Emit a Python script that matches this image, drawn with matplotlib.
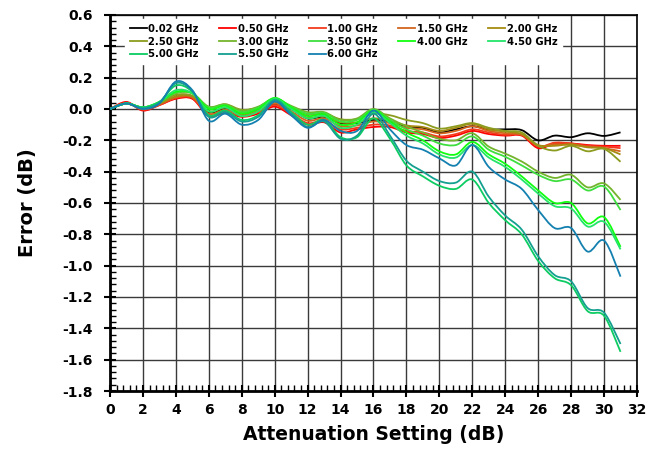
import matplotlib
matplotlib.use('Agg')
import matplotlib.pyplot as plt
from matplotlib.path import Path
from matplotlib.patches import PathPatch
from matplotlib.lines import Line2D
from matplotlib.ticker import MultipleLocator, FormatStrFormatter

# attenuation setting (dB)
atten = list(range(32))

freq_labels = ['0.02 GHz', '0.50 GHz', '1.00 GHz', '1.50 GHz', '2.00 GHz',
               '2.50 GHz', '3.00 GHz', '3.50 GHz', '4.00 GHz', '4.50 GHz',
               '5.00 GHz', '5.50 GHz', '6.00 GHz']
line_colors = ['#000000', '#ff0000', '#f43a1c', '#d2661e', '#a88a10',
               '#8c9c1e', '#74b42c', '#3ede3e', '#10ff10', '#24e46a',
               '#0ccc62', '#14a090', '#1480b0']

err_002 = [0, 0.035, 0.0, 0.03, 0.07, 0.07, -0.02, 0.0, -0.03, -0.01, 0.03, 0.0,
           -0.06, -0.05, -0.09, -0.09, -0.07, -0.08, -0.11, -0.12, -0.15, -0.13,
           -0.11, -0.13, -0.13, -0.135, -0.2, -0.17, -0.18, -0.155, -0.172, -0.149]
err_050 = [0, 0.045, -0.01, 0.025, 0.065, 0.065, -0.045, -0.025, -0.05, -0.03, 0.015, -0.04,
           -0.1, -0.085, -0.15, -0.13, -0.115, -0.115, -0.15, -0.16, -0.185, -0.17,
           -0.14, -0.16, -0.17, -0.17, -0.25, -0.22, -0.22, -0.23, -0.235, -0.235]
err_100 = [0, 0.04, -0.005, 0.025, 0.07, 0.07, -0.04, -0.015, -0.045, -0.02, 0.025, -0.03,
           -0.09, -0.075, -0.13, -0.12, -0.1, -0.105, -0.14, -0.15, -0.175, -0.16,
           -0.13, -0.15, -0.165, -0.165, -0.24, -0.215, -0.22, -0.235, -0.24, -0.25]
err_150 = [0, 0.035, 0.0, 0.03, 0.075, 0.075, -0.03, -0.005, -0.035, -0.01, 0.035, -0.015,
           -0.075, -0.06, -0.11, -0.105, -0.08, -0.09, -0.12, -0.13, -0.155, -0.14,
           -0.11, -0.14, -0.155, -0.165, -0.235, -0.225, -0.23, -0.24, -0.25, -0.27]
err_200 = [0, 0.035, 0.005, 0.035, 0.08, 0.08, -0.015, 0.01, -0.02, 0.0, 0.045, 0.0,
           -0.055, -0.045, -0.085, -0.085, -0.06, -0.075, -0.105, -0.115, -0.14, -0.12,
           -0.095, -0.13, -0.145, -0.16, -0.23, -0.235, -0.225, -0.245, -0.25, -0.29]
err_250 = [0, 0.035, 0.01, 0.04, 0.09, 0.085, 0.01, 0.03, -0.005, 0.01, 0.055, 0.015,
           -0.035, -0.03, -0.065, -0.065, -0.03, -0.04, -0.07, -0.09, -0.125, -0.11,
           -0.09, -0.12, -0.14, -0.15, -0.235, -0.265, -0.235, -0.27, -0.255, -0.337]
err_300 = [0, 0.035, 0.01, 0.04, 0.1, 0.1, 0.015, 0.03, -0.01, 0.015, 0.065, 0.02,
           -0.02, -0.02, -0.07, -0.06, 0.0, -0.06, -0.11, -0.15, -0.19, -0.2,
           -0.155, -0.24, -0.285, -0.335, -0.4, -0.44, -0.42, -0.5, -0.475, -0.58]
err_350 = [0, 0.035, 0.01, 0.045, 0.105, 0.1, 0.01, 0.025, -0.02, 0.01, 0.07, 0.015,
           -0.03, -0.025, -0.08, -0.07, -0.005, -0.07, -0.13, -0.17, -0.22, -0.23,
           -0.175, -0.26, -0.305, -0.36, -0.42, -0.46, -0.45, -0.52, -0.495, -0.645]
err_400 = [0, 0.035, 0.01, 0.045, 0.11, 0.1, 0.0, 0.02, -0.03, 0.0, 0.07, 0.01,
           -0.045, -0.035, -0.1, -0.085, -0.01, -0.08, -0.15, -0.2, -0.27, -0.29,
           -0.21, -0.29, -0.35, -0.43, -0.52, -0.6, -0.6, -0.73, -0.69, -0.88]
err_450 = [0, 0.035, 0.01, 0.045, 0.12, 0.1, -0.015, 0.01, -0.045, -0.015, 0.065, 0.0,
           -0.06, -0.045, -0.12, -0.1, -0.02, -0.09, -0.17, -0.22, -0.29, -0.31,
           -0.23, -0.31, -0.37, -0.45, -0.54, -0.62, -0.635, -0.75, -0.72, -0.896]
err_500 = [0, 0.035, 0.01, 0.045, 0.15, 0.11, -0.04, -0.01, -0.07, -0.04, 0.06, -0.02,
           -0.1, -0.07, -0.18, -0.18, -0.06, -0.19, -0.36, -0.43, -0.49, -0.51,
           -0.45, -0.6, -0.71, -0.8, -0.97, -1.08, -1.125, -1.29, -1.32, -1.55]
err_550 = [0, 0.035, 0.005, 0.04, 0.165, 0.115, -0.05, -0.02, -0.08, -0.05, 0.055, -0.03,
           -0.115, -0.08, -0.19, -0.17, -0.03, -0.17, -0.33, -0.4, -0.46, -0.47,
           -0.4, -0.56, -0.68, -0.77, -0.94, -1.06, -1.1, -1.27, -1.3, -1.5]
err_600 = [0, 0.035, 0.0, 0.035, 0.175, 0.12, -0.075, -0.03, -0.1, -0.07, 0.047, -0.04,
           -0.12, -0.07, -0.14, -0.14, -0.01, -0.13, -0.23, -0.26, -0.315, -0.36,
           -0.23, -0.37, -0.45, -0.51, -0.645, -0.76, -0.76, -0.91, -0.84, -1.07]

all_err = [err_002, err_050, err_100, err_150, err_200, err_250, err_300,
           err_350, err_400, err_450, err_500, err_550, err_600]


def smooth_path(x, y):
    # smoothed line like the spreadsheet one: bezier through each point
    verts = [(x[0], y[0])]
    codes = [Path.MOVETO]
    n = len(x)
    for i in range(n - 1):
        if i > 0:
            x0, y0 = x[i - 1], y[i - 1]
        else:
            x0, y0 = x[i], y[i]
        if i < n - 2:
            x3, y3 = x[i + 2], y[i + 2]
        else:
            x3, y3 = x[i + 1], y[i + 1]
        c1 = (x[i] + (x[i + 1] - x0) / 6.0, y[i] + (y[i + 1] - y0) / 6.0)
        c2 = (x[i + 1] - (x3 - x[i]) / 6.0, y[i + 1] - (y3 - y[i]) / 6.0)
        verts += [c1, c2, (x[i + 1], y[i + 1])]
        codes += [Path.CURVE4] * 3
    return Path(verts, codes)


fig = plt.figure(figsize=(6.65, 4.5), dpi=100)
ax = fig.add_axes([0.1654, 0.1311, 0.7925, 0.8356])

handles = []
for err, c, lab in zip(all_err, line_colors, freq_labels):
    ax.add_patch(PathPatch(smooth_path(atten, err), fill=False, edgecolor=c,
                           lw=1.3, zorder=3))
    handles.append(Line2D([], [], color=c, lw=1.3, label=lab))

ax.set_xlim(0, 32)
ax.set_ylim(-1.8, 0.6)
ax.xaxis.set_major_locator(MultipleLocator(2))
ax.xaxis.set_minor_locator(MultipleLocator(0.4))
ax.yaxis.set_major_locator(MultipleLocator(0.2))
ax.yaxis.set_minor_locator(MultipleLocator(0.04))
ax.yaxis.set_major_formatter(FormatStrFormatter('%.1f'))
ax.grid(True, which='major', color='#3a3a3a', lw=1.0, zorder=1)
ax.set_axisbelow(True)

ax.tick_params(which='major', direction='inout', length=9, width=1.5,
               labelsize=10, pad=4)
ax.tick_params(axis='y', which='major', pad=8)
ax.tick_params(which='minor', direction='in', length=4, width=1)
for lab in ax.get_xticklabels() + ax.get_yticklabels():
    lab.set_fontweight('bold')
for s in ['left', 'bottom']:
    ax.spines[s].set_linewidth(2)
for s in ['top', 'right']:
    ax.spines[s].set_linewidth(1.2)

ax.set_xlabel('Attenuation Setting (dB)', fontsize=13.5, fontweight='bold', labelpad=6)
ax.set_ylabel('Error (dB)', fontsize=14, fontweight='bold', labelpad=18)

# legend filled row by row like the original
order = [0, 5, 10, 1, 6, 11, 2, 7, 12, 3, 8, 4, 9]
leg = ax.legend(handles=[handles[i] for i in order], ncol=5, loc='upper left',
                bbox_to_anchor=(0.028, 0.99), borderaxespad=0,
                prop={'size': 7.2, 'weight': 'bold'}, handlelength=1.7,
                handletextpad=0.15, columnspacing=2.05, labelspacing=0.28,
                borderpad=0.5, frameon=True, fancybox=False,
                framealpha=1, facecolor='white', edgecolor='white')
leg.set_zorder(5)

fig.savefig('out.png', dpi=100)
